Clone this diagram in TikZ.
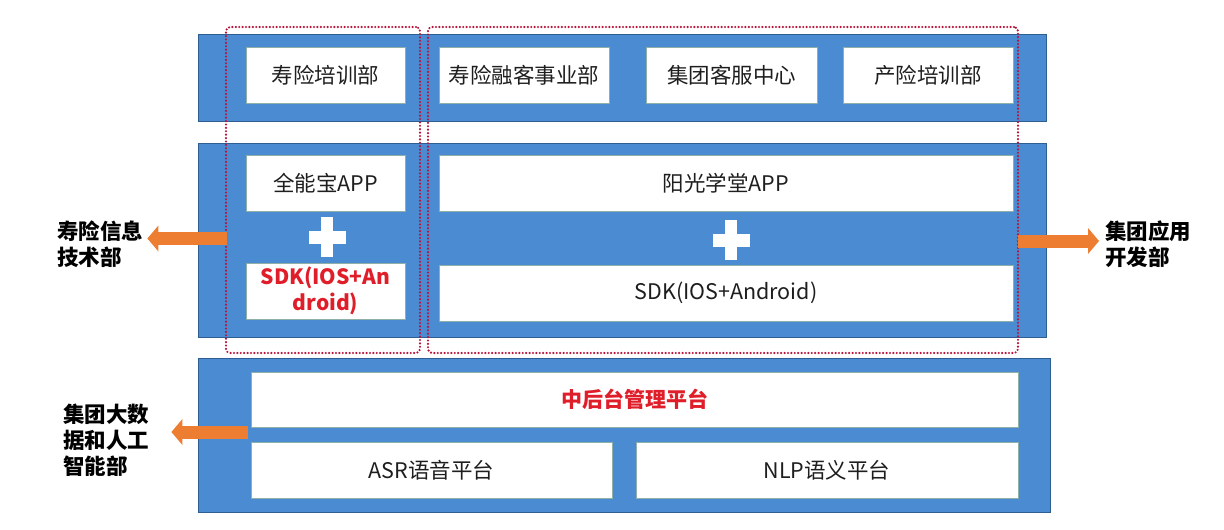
\documentclass[tikz,border=0pt]{standalone}
\usepackage{fontspec}
\setmainfont{Noto Sans CJK SC}
\usetikzlibrary{calc,arrows.meta}
\definecolor{bandblue}{HTML}{4B8BD2}
\definecolor{bandedge}{HTML}{2F5F92}
\definecolor{boxedge}{HTML}{8FB0A8}
\definecolor{txt}{HTML}{1E1E1E}
\definecolor{redtxt}{HTML}{E01E2A}
\definecolor{dotred}{HTML}{B8143C}
\definecolor{arrorange}{HTML}{ED7D31}
\tikzset{
  band/.style={draw=bandedge, line width=1pt, fill=bandblue, inner sep=0pt},
  wbox/.style={draw=boxedge, line width=0.8pt, fill=white, inner sep=0pt, text=txt,
     font=\fontsize{21.5}{26}\selectfont, align=center},
  redbold/.style={text=redtxt, font=\fontsize{21}{26}\selectfont\bfseries},
  dotframe/.style={draw=dotred, line width=2.4pt, line cap=round, dash pattern=on 0pt off 3.4pt,
     rounded corners=4pt, inner sep=0pt},
  sidelabel/.style={font=\fontsize{21.5}{26}\selectfont\bfseries, text=black, align=left, inner sep=2pt},
  blockarrow/.style={draw=arrorange, line width=13pt,
     -{Triangle[length=11pt,width=26pt,line width=0pt,fill=arrorange]}},
}
\begin{document}
\begin{tikzpicture}[x=1pt,y=-1pt]
\useasboundingbox (0,0) rectangle (1224,530);
\fill[white] (0,0) rectangle (1224,530);

% bands
\node[band, minimum width=848, minimum height=87] (band1) at (622,77.5) {};
\node[band, minimum width=848, minimum height=194] (band2) at (622,240) {};
\node[band, minimum width=852, minimum height=154] (band3) at (624,435) {};

% top row
\node[wbox, minimum width=159, minimum height=56] (b11) at (325.5,75) {寿险培训部};
\node[wbox, minimum width=170, minimum height=56] (b12) at (524,75) {寿险融客事业部};
\node[wbox, minimum width=171, minimum height=56] (b13) at (731.5,75) {集团客服中心};
\node[wbox, minimum width=170, minimum height=56] (b14) at (928,75) {产险培训部};

% middle row
\node[wbox, minimum width=159, minimum height=56] (b21) at (325.5,183) {全能宝APP};
\node[wbox, minimum width=574, minimum height=56] (b22) at (726,183) {阳光学堂APP};
\node[wbox, minimum width=159, minimum height=56, redbold] (b23) at (325.5,291) {SDK(IOS+An\\droid)};
\node[wbox, minimum width=574, minimum height=56] (b24) at (726,293) {SDK(IOS+Android)};

% plus signs
\coordinate (plusL) at (327,237);
\coordinate (plusR) at (731,240);
\foreach \p in {plusL,plusR}{
  \fill[white] ($(\p)+(-18.5,-6.5)$) rectangle ($(\p)+(18.5,6.5)$);
  \fill[white] ($(\p)+(-6,-20)$) rectangle ($(\p)+(6,20)$);
}

% bottom band
\node[wbox, minimum width=767, minimum height=55, redbold] (b31) at (634.5,399.5) {中后台管理平台};
\node[wbox, minimum width=361, minimum height=56] (b32) at (431.5,470) {ASR语音平台};
\node[wbox, minimum width=382, minimum height=56] (b33) at (827,470) {NLP语义平台};

% dotted frames
\node[dotframe, minimum width=194, minimum height=326] (dotL) at (323,190) {};
\node[dotframe, minimum width=590, minimum height=326] (dotR) at (723,190) {};

% side labels
\node[sidelabel, anchor=west] (lab1) at (55,244.5) {寿险信息\\技术部};
\node[sidelabel, anchor=west] (lab2) at (1103,244.5) {集团应用\\开发部};
\node[sidelabel, anchor=west] (lab3) at (61,440) {集团大数\\据和人工\\智能部};

% arrows
\draw[blockarrow] (dotL.west |- plusL) ++(2,1.5) coordinate (aL) -- ([xshift=2]lab1.east |- aL);
\draw[blockarrow] (dotR.east |- plusR) ++(-1,1) coordinate (aR) -- ([xshift=-4]lab2.west |- aR);
\coordinate (aB) at ($(b31.south west)!0.5!(b32.north west)+(-3,-2.5)$);
\draw[blockarrow] (aB) -- ([xshift=20]lab3.east |- aB);
\end{tikzpicture}
\end{document}
